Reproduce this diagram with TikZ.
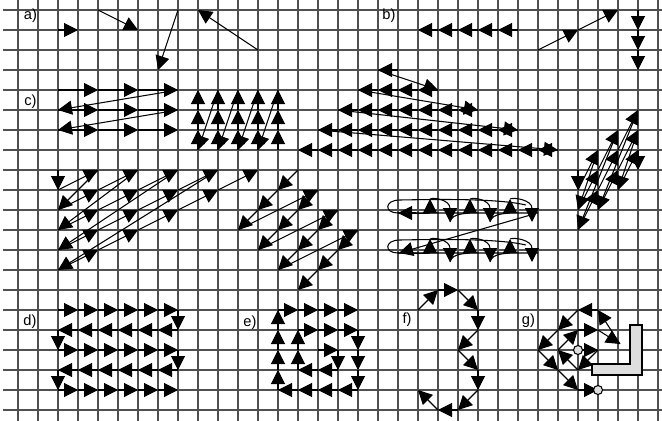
\documentclass[tikz,border=0pt]{standalone}
\usepackage{fontspec}
\setmainfont{Liberation Sans}
\usetikzlibrary{arrows.meta}
\definecolor{gridc}{RGB}{80,80,80}
\definecolor{lgray}{RGB}{222,222,222}
\tikzset{
  gridline/.style={draw=gridc, line width=1.6pt},
  arr/.style={-{Triangle[length=10.5pt,width=10.5pt]}, line width=0.8pt, black},
  thinline/.style={line width=0.8pt, black},
  lab/.style={inner sep=0pt, font=\fontsize{11pt}{13pt}\selectfont},
}
\newcommand\chain[2][]{\foreach \p [count=\i, remember=\p as \q] in {#2}{\ifnum\i>1 \draw[arr,#1] \q -- \p;\fi}}
\begin{document}
\begin{tikzpicture}[x=0.75pt,y=-0.75pt]
\fill[white] (0,0) rectangle (662,421);
\useasboundingbox (0,0) rectangle (662,421);
% grid
\foreach \i in {0,...,32} \draw[gridline] ({18+20*\i},0) -- ({18+20*\i},421);
\foreach \j in {0,...,20} \draw[gridline] (3,{10+20*\j}) -- (662,{10+20*\j});
% labels
\node[lab] (la) at (30.5,16) {a)};
\node[lab] (lb) at (389,16) {b)};
\node[lab] (lc) at (30.5,101.5) {c)};
\node[lab] (ld) at (30,322) {d)};
\node[lab] (le) at (250,323) {e)};
\node[lab] (lf) at (407,320) {f)};
\node[lab] (lg) at (528.5,321) {g)};
% a)
\draw[arr] (58,30) -- (78,30);
\draw[arr] (98,10) -- (138,30);
\draw[arr] (178,10) -- (158,70);
\draw[arr] (258,50) -- (198,10);
% b)
\chain{(518,30),(498,30),(478,30),(458,30),(438,30),(418,30)}
\chain{(538,50),(578,30),(618,10)}
\chain{(638,10),(638,30),(638,50),(638,70)}
% c) rows
\chain{(58,90),(98,90),(138,90),(178,90),(58,110),(98,110),(138,110),(178,110),(58,130),(98,130),(138,130),(178,130)}
% c) columns
\chain{(278,150),(278,130),(278,110),(278,90),(258,150),(258,130),(258,110),(258,90),(238,150),(238,130),(238,110),(238,90),(218,150),(218,130),(218,110),(218,90),(198,150),(198,130),(198,110),(198,90)}
% triangle of left arrows
\chain{(398,70),(378,70),(438,90),(418,90),(398,90),(378,90),(358,90),(478,110),(458,110),(438,110),(418,110),(398,110),(378,110),(358,110),(338,110),(518,130),(498,130),(478,130),(458,130),(438,130),(418,130),(398,130),(378,130),(358,130),(338,130),(318,130),(558,150),(538,150),(518,150),(498,150),(478,150),(458,150),(438,150),(418,150),(398,150),(378,150),(358,150),(338,150),(318,150),(298,150)}
% diagonal raster left
\chain{(58,170),(58,190),(98,170),(58,210),(98,190),(138,170),(58,230),(98,210),(138,190),(178,170),(58,250),(98,230),(138,210),(178,190),(218,170),(58,270),(98,250),(138,230),(178,210),(218,190),(258,170)}
% zigzag middle
\chain{(298,170),(278,190),(258,210),(238,230),(318,190),(298,210),(278,230),(258,250),(338,210),(318,230),(298,250),(278,270),(358,230),(338,250),(318,270),(298,290)}
% right steep raster
\chain{(578,170),(578,190),(598,150),(578,210),(598,170),(618,130),(578,230),(598,190),(618,150),(638,110),(598,210),(618,170),(638,130),(618,190),(638,150),(638,170)}
% loops
\foreach \yo in {210,250}{
  \draw[thinline] (538,{\yo+3}) -- (398,{\yo+3}) .. controls (384,{\yo+3}) and (384,{\yo-10}) .. (400,{\yo-10}) .. controls (450,{\yo-11}) and (500,{\yo-11}) .. (526,{\yo-5});
  \draw[arr] (398,{\yo+3}) .. controls (416,{\yo+3}) and (430,{\yo+4}) .. (430,{\yo-11});
  \draw[arr] (430,{\yo-11}) .. controls (434,{\yo-13}) and (450,{\yo-10}) .. (450,{\yo+12});
  \draw[arr] (450,{\yo+12}) .. controls (452,{\yo+2}) and (470,{\yo+4}) .. (470,{\yo-11});
  \draw[arr] (470,{\yo-11}) .. controls (474,{\yo-13}) and (490,{\yo-10}) .. (490,{\yo+12});
  \draw[arr] (490,{\yo+12}) .. controls (492,{\yo+2}) and (510,{\yo+4}) .. (510,{\yo-11});
  \draw[arr] (510,{\yo-11}) .. controls (514,{\yo-13}) and (532,{\yo-10}) .. (532,{\yo+12});
}
\draw[arr] (416,213) -- (398,213);
\draw[arr] (534,214) -- (399,253);
% d)
\chain{(58,310),(78,310),(98,310),(118,310),(138,310),(158,310),(178,310),(178,330),(158,330),(138,330),(118,330),(98,330),(78,330),(58,330),(58,350),(78,350),(98,350),(118,350),(138,350),(158,350),(178,350),(178,370),(158,370),(138,370),(118,370),(98,370),(78,370),(58,370),(58,390),(78,390),(98,390),(118,390),(138,390),(158,390),(178,390)}
% e)
\chain{(318,350),(338,350),(338,370),(318,370),(298,370),(298,350),(298,330),(318,330),(338,330),(358,330),(358,350),(358,370),(358,390),(338,390),(318,390),(298,390),(278,390),(278,370),(278,350),(278,330),(278,310),(298,310),(318,310),(338,310),(358,310)}
% f)
\chain{(418,310),(438,290),(458,290),(478,310),(478,330),(458,350),(478,370),(478,390),(458,410),(438,410),(418,390)}
% g)
\chain{(578,350),(598,350),(578,370),(558,350),(578,330),(598,330),(620,344),(598,310),(578,310),(558,330),(538,350),(558,370),(578,390),(598,390)}
\filldraw[fill=lgray, draw=black, line width=1.5pt] (592,364) -- (630,364) -- (630,325) -- (642,325) -- (642,375) -- (592,375) -- cycle;
\filldraw[fill=lgray, draw=black, line width=0.8pt] (578,350) circle (3.4pt);
\filldraw[fill=lgray, draw=black, line width=0.8pt] (598,390) circle (3.4pt);
\end{tikzpicture}
\end{document}
